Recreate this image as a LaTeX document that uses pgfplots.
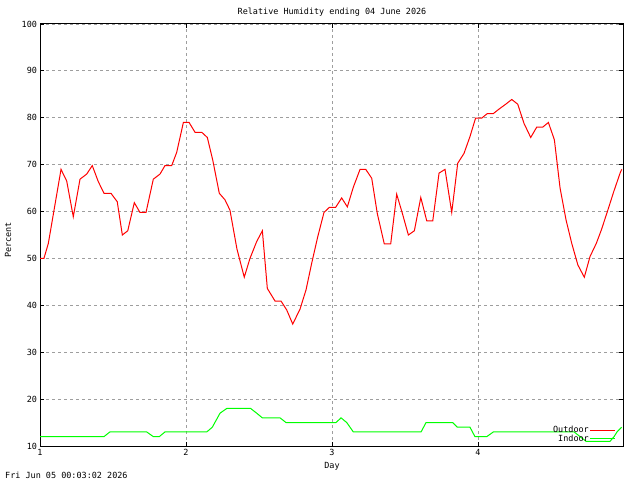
\documentclass[border=0pt]{standalone}
\usepackage{fontspec}
\setmainfont{DejaVu Sans Mono}
\usepackage{pgfplots}
\pgfplotsset{compat=1.18}
\begin{document}
\fontsize{8.5}{10}\selectfont
\begin{tikzpicture}
\path[use as bounding box] (-40bp,-34bp) rectangle (600bp,446bp);
\begin{axis}[
  scale only axis, width=583bp, height=422bp,
  at={(0,0)}, anchor=south west,
  xmin=1, xmax=4.993, ymin=10, ymax=100,
  xtick={1,2,3,4}, ytick={10,20,...,100},
  grid=major,
  grid style={black!38, dash pattern=on 3bp off 3bp, line width=0.8bp},
  axis line style={line width=1bp},
  major tick length=4bp,
  tick style={black, line width=0.8bp},
  tick label style={font=\fontsize{8.5}{10}\selectfont},
  /pgf/number format/assume math mode=true,
  legend plot pos=right,
  legend cell align=right,
  legend style={draw=none, fill=none, at={(rel axis cs:0.988,0.005)}, anchor=south east,
    font=\fontsize{8.5}{10}\selectfont, row sep=-1bp, inner sep=0pt,
    nodes={inner sep=1bp}},
  legend image code/.code={\draw[#1] (0bp,0bp) -- (25bp,0bp);},
]
\addplot[color=red, line width=1bp] coordinates {
(1.000,50) (1.027,50) (1.057,53.2) (1.100,61.0) (1.144,69.0) (1.183,66.5) (1.228,58.9)
(1.274,66.9) (1.320,68.0) (1.358,69.8) (1.399,66.4) (1.438,63.9) (1.486,63.9) (1.529,62.1)
(1.564,55.0) (1.601,55.9) (1.646,61.9) (1.685,59.8) (1.726,59.8) (1.776,66.9) (1.822,68.0)
(1.856,69.8) (1.902,69.8) (1.936,72.6) (1.982,79.0) (2.021,79.0) (2.062,76.9) (2.108,76.9)
(2.146,75.8) (2.183,71.0) (2.228,63.9) (2.267,62.5) (2.301,60.3) (2.349,52.0) (2.399,46.0)
(2.438,50.0) (2.484,53.6) (2.523,55.9) (2.557,43.6) (2.610,40.9) (2.651,40.9) (2.690,39.0)
(2.731,36.0) (2.781,39.2) (2.822,43.3) (2.861,49.0) (2.902,54.6) (2.945,59.8) (2.982,60.9)
(3.025,60.9) (3.066,62.9) (3.105,61.0) (3.146,65.2) (3.192,69.0) (3.231,69.0) (3.272,67.1)
(3.310,59.6) (3.358,53.1) (3.402,53.1) (3.443,63.7) (3.482,59.6) (3.523,55.0) (3.564,55.9)
(3.608,63.0) (3.649,58.0) (3.690,58.0) (3.733,68.2) (3.774,69.0) (3.820,59.8) (3.861,70.3)
(3.904,72.4) (3.945,76.0) (3.983,79.9) (4.024,79.9) (4.064,80.9) (4.105,80.9) (4.146,81.9)
(4.190,82.9) (4.231,83.9) (4.272,82.9) (4.315,78.8) (4.361,75.8) (4.402,78.0) (4.443,78.0)
(4.482,79.0) (4.523,75.3) (4.562,65.0) (4.603,58.2) (4.642,53.2) (4.684,48.6) (4.728,46.0)
(4.767,50.4) (4.810,53.2) (4.845,56.1) (4.886,60.0) (4.929,64.2) (4.973,68.2) (4.984,69.0)
};
\addlegendentry{Outdoor}
\addplot[color={rgb,255:red,0;green,255;blue,0}, line width=1bp] coordinates {
(1.000,12) (1.438,12) (1.479,13) (1.731,13) (1.776,12) (1.817,12) (1.856,13) (2.142,13)
(2.180,14) (2.233,17) (2.279,18) (2.443,18) (2.484,17) (2.523,16) (2.644,16) (2.685,15)
(3.027,15) (3.062,16) (3.101,15) (3.146,13) (3.610,13) (3.644,15) (3.827,15) (3.858,14)
(3.945,14) (3.979,12) (4.060,12) (4.105,13) (4.658,13) (4.699,12) (4.740,11) (4.904,11)
(4.932,12) (4.952,13) (4.984,14)
};
\addlegendentry{Indoor}
\end{axis}
\node at (292bp,434bp) {Relative Humidity ending 04 June 2026};
\node at (292bp,-20bp) {Day};
\node[rotate=90] at (-32bp,206bp) {Percent};
\node[anchor=west, inner sep=0pt] at (-35bp,-29bp) {Fri Jun 05 00:03:02 2026};
\end{tikzpicture}
\end{document}
